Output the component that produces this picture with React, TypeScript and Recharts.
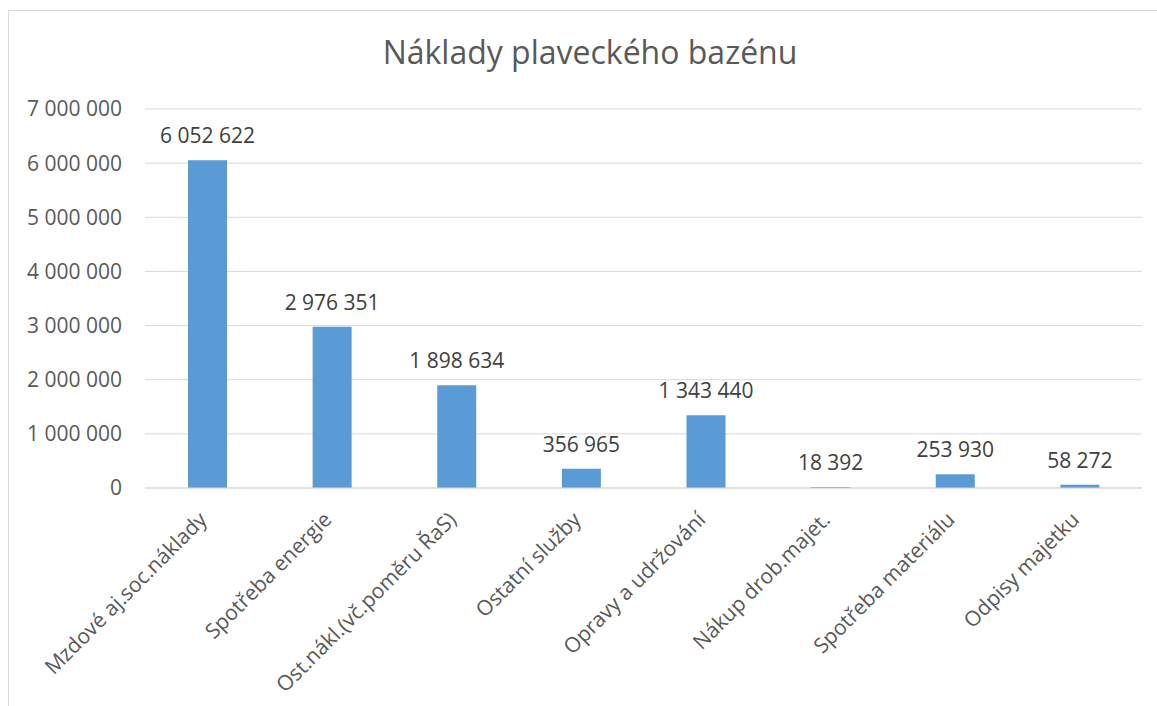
import { BarChart, Bar, XAxis, YAxis, CartesianGrid, LabelList } from 'recharts'

// náklady plaveckého bazénu (Kč)
const categories = [
  'Mzdové aj.soc.náklady',
  'Spotřeba energie',
  'Ost.nákl.(vč.poměru ŘaS)',
  'Ostatní služby',
  'Opravy a udržování',
  'Nákup drob.majet.',
  'Spotřeba materiálu',
  'Odpisy majetku',
]
const costs = [6052622, 2976351, 1898634, 356965, 1343440, 18392, 253930, 58272]
const yTicks = [0, 1000000, 2000000, 3000000, 4000000, 5000000, 6000000, 7000000]

const data = categories.map((name, i) => ({ name, value: costs[i] }))

const FONT = '"Open Sans", sans-serif'

const fmt = (v: number) => String(v).replace(/\B(?=(\d{3})+(?!\d))/g, ' ')

const AngledTick = (props: any) => {
  const { x, y, payload } = props
  const ax = x + 1
  const ay = y + 25
  return (
    <text
      x={ax}
      y={ay}
      transform={`rotate(-45, ${ax}, ${ay})`}
      textAnchor="end"
      fill="#595959"
      fontSize={21}
      fontFamily={FONT}
    >
      {payload.value}
    </text>
  )
}

// hodnota nad sloupcem, bez zalamování
const ValueLabel = (props: any) => {
  const { x, y, width, value } = props
  return (
    <text
      x={x + width / 2}
      y={y - 17}
      textAnchor="middle"
      fill="#404040"
      fontSize={21}
      fontFamily={FONT}
    >
      {fmt(Number(value))}
    </text>
  )
}

export default function App() {
  return (
    <div style={{ position: 'absolute', left: 0, top: 0, width: 1157, height: 706, overflow: 'hidden', background: '#fff' }}>
      <div
        style={{
          position: 'absolute',
          left: 8,
          top: 10,
          width: 1300,
          height: 900,
          border: '1px solid #d9d9d9',
        }}
      />
      <div
        style={{
          position: 'absolute',
          left: 590,
          top: 36,
          transform: 'translateX(-50%)',
          fontFamily: FONT,
          fontSize: 32,
          lineHeight: 1,
          color: '#595959',
          whiteSpace: 'nowrap',
        }}
      >
        Náklady plaveckého bazénu
      </div>
      <div style={{ position: 'absolute', left: 0, top: 0 }}>
        <BarChart
          width={1157}
          height={706}
          data={data}
          margin={{ top: 109, right: 15, bottom: 0, left: 0 }}
          barCategoryGap={0}
        >
          <CartesianGrid vertical={false} stroke="#d9d9d9" />
          <XAxis
            dataKey="name"
            interval={0}
            height={218}
            tickLine={false}
            axisLine={{ stroke: '#d9d9d9' }}
            tick={<AngledTick />}
          />
          <YAxis
            width={145}
            domain={[0, 7000000]}
            ticks={yTicks}
            tickFormatter={fmt}
            axisLine={false}
            tickLine={false}
            tickMargin={17}
            tick={{ fill: '#595959', fontSize: 21, fontFamily: FONT }}
          />
          <Bar dataKey="value" fill="#5b9bd5" barSize={39} isAnimationActive={false}>
            <LabelList dataKey="value" content={<ValueLabel />} />
          </Bar>
        </BarChart>
      </div>
    </div>
  )
}
